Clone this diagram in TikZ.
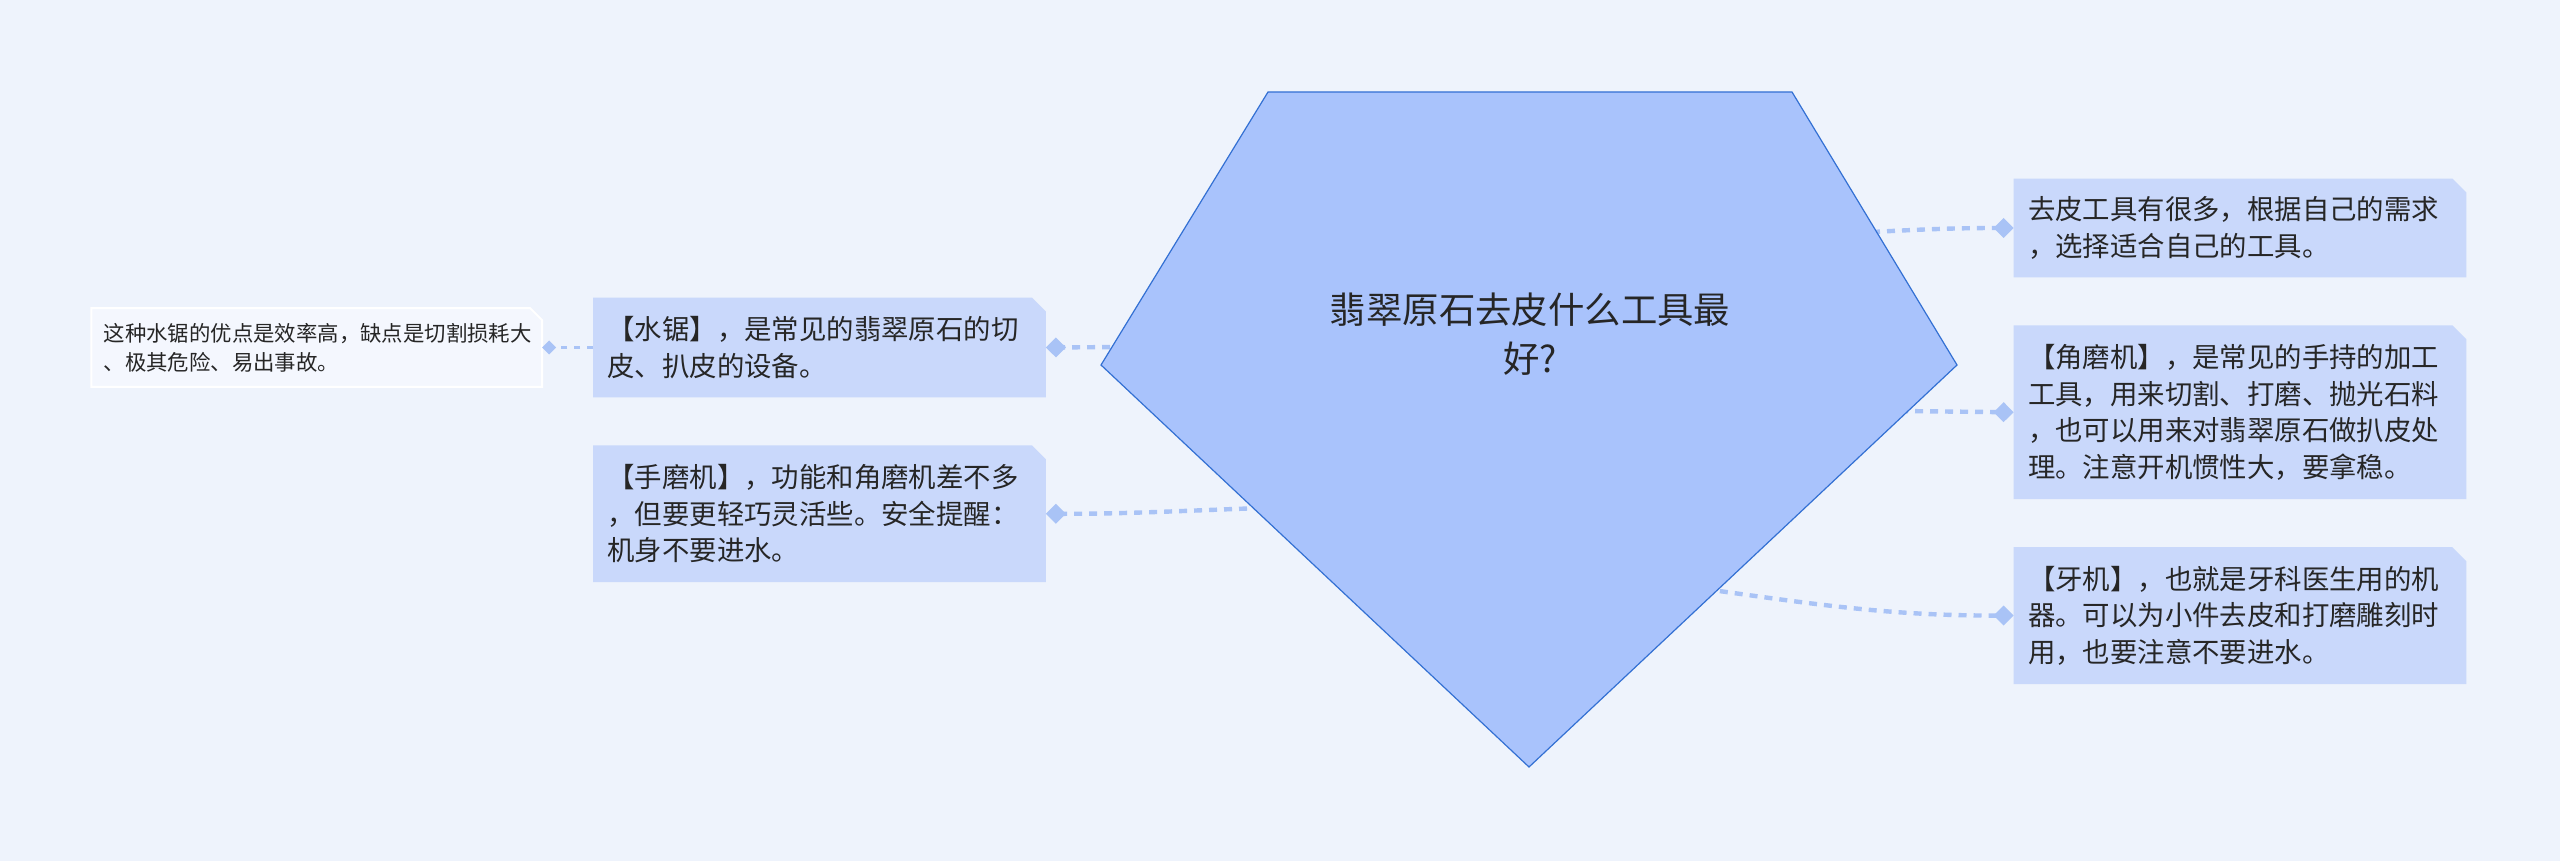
\documentclass[tikz,border=0pt]{standalone}
\usepackage{fontspec}
\setmainfont{Noto Sans CJK SC}
\usetikzlibrary{positioning}
\usetikzlibrary{arrows.meta}
\usetikzlibrary{backgrounds}
\definecolor{bgblue}{HTML}{EEF3FC}
\definecolor{leafblue}{HTML}{C9D8FB}
\definecolor{rootblue}{HTML}{A9C3FC}
\definecolor{rootline}{HTML}{3370D3}
\definecolor{linkblue}{HTML}{A9C3F6}
\definecolor{notefill}{HTML}{F4F7FE}
\definecolor{inkgrey}{HTML}{262626}

\begin{document}
\begin{tikzpicture}[x=0.5pt, y=-0.5pt,
		leaf/.style = {
			text width=212pt, inner xsep=7pt, inner ysep=0pt,
			align=left, text=inkgrey,
			font=\fontsize{13.7}{18.25}\selectfont
		},
		note/.style = {
			leaf, text width=213pt, inner xsep=6pt,
			font=\fontsize{10.7}{14.5}\selectfont
		},
		link/.style = {
			linkblue, line width=2.2pt, dash pattern=on 4pt off 3.5pt,
			-{Diamond[length=10pt, width=10pt]}
		},
		thin link/.style = {
			linkblue, line width=1.5pt, dash pattern=on 3pt off 3.5pt,
			-{Diamond[length=7pt, width=7pt]}
		}]
		\node (tools) [leaf, minimum height=49pt] at (2240,228) {去皮工具有很多，根据自己的需求\\，选择适合自己的工具。};
		\node (angle) [leaf, minimum height=86.5pt, below=24pt of tools] {【角磨机】，是常见的手持的加工\\工具，用来切割、打磨、抛光石料\\，也可以用来对翡翠原石做扒皮处\\理。注意开机惯性大，要拿稳。};
		\node (dental) [leaf, minimum height=68pt, below=24pt of angle] {【牙机】，也就是牙科医生用的机\\器。可以为小件去皮和打磨雕刻时\\用，也要注意不要进水。};
		\node (saw) [leaf, minimum height=49.5pt] at (819.5,347.5) {【水锯】，是常见的翡翠原石的切\\皮、扒皮的设备。};
		\node (hand) [leaf, minimum height=68pt, below=24pt of saw] {【手磨机】，功能和角磨机差不多\\，但要更轻巧灵活些。安全提醒：\\机身不要进水。};
		\node (note) [note, minimum height=39pt, left=25.5pt of saw] {这种水锯的优点是效率高，缺点是切割损耗大\\、极其危险、易出事故。};

		% box fills, corner cut at north east
		\begin{pgfonlayer}{background}
			\fill [bgblue] (0,0) rectangle (2560,861);
			\foreach \b in {tools,angle,dental,saw,hand} {
				\fill [leafblue] (\b.south west) -- (\b.north west) -- ([xshift=-7pt]\b.north east)
				-- ([yshift=-7pt]\b.north east) -- (\b.south east) -- cycle;
			}
			\filldraw [fill=notefill, draw=white, line width=1pt] (note.south west) -- (note.north west)
			-- ([xshift=-6pt]note.north east) -- ([yshift=-6pt]note.north east) -- (note.south east) -- cycle;
		\end{pgfonlayer}

		% connectors start under the pentagon
		\coordinate (s1) at (1872,232);
		\coordinate (s2) at (1900,411);
		\coordinate (s3) at (1705,589);
		\coordinate (s4) at (1125,347);
		\coordinate (s5) at (1262,508);
		\draw [link] (s1) to[out=3, in=180] (tools.west);
		\draw [link] (s2) -- (angle.west);
		\draw [link] (s3) to[out=-8, in=180] (dental.west);
		\draw [link] (s4) -- (saw.east);
		\draw [link] (s5) to[out=182, in=0] (hand.east);
		\draw [thin link] (saw.west) -- (note.east);

		\coordinate (p1) at (1268,92);
		\coordinate (p2) at (1792,92);
		\coordinate (p3) at (1957,365);
		\coordinate (p4) at (1529,767);
		\coordinate (p5) at (1101,365);
		\filldraw [fill=rootblue, draw=rootline, line width=0.6pt] (p1) -- (p2) -- (p3) -- (p4) -- (p5) -- cycle;
		\node (title) [align=center, text=inkgrey, font=\fontsize{18.2}{24.3}\selectfont] at (1530,334) {翡翠原石去皮什么工具最\\好?};
	\end{tikzpicture}
\end{document}
